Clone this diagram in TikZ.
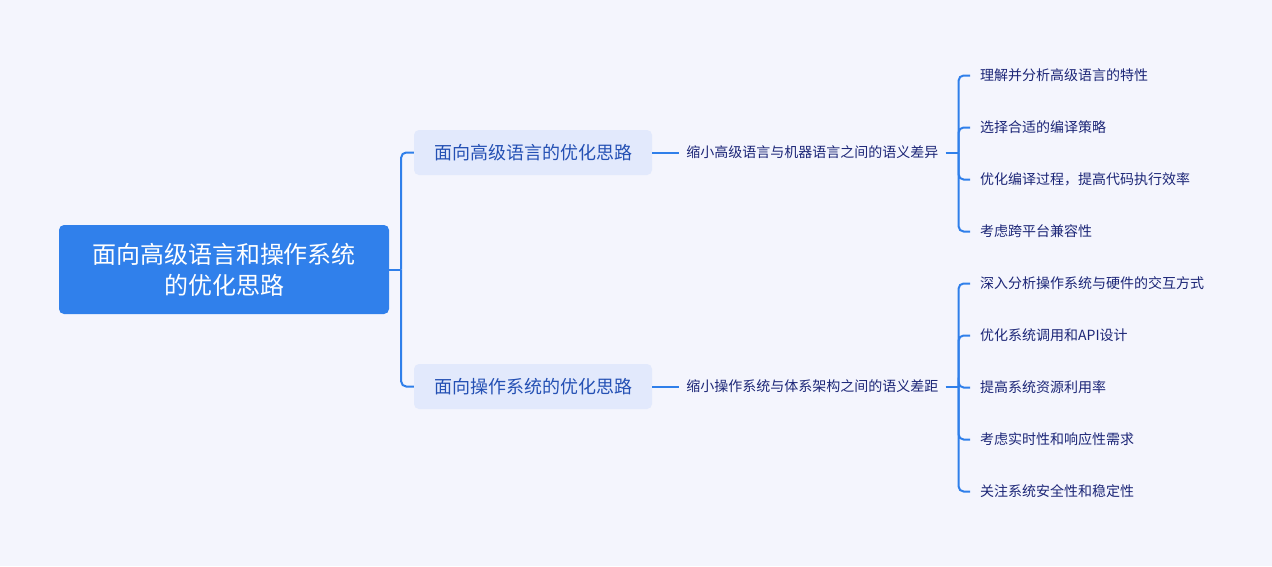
\documentclass[tikz,border=0pt]{standalone}
\usepackage{fontspec}
\setmainfont{Noto Sans CJK SC}
\usetikzlibrary{positioning}

\definecolor{bgcol}{HTML}{F4F5FD}
\definecolor{rootcol}{HTML}{3080EB}
\definecolor{subcol}{HTML}{E2E9FC}
\definecolor{linecol}{HTML}{2F7FEA}
\definecolor{subtxt}{HTML}{2450B4}
\definecolor{leaftxt}{HTML}{1C2677}

\tikzset{
  rootbox/.style={fill=rootcol, text=white, rounded corners=5pt, minimum width=330pt,
    minimum height=89pt, align=center, font=\fontsize{24}{31}\selectfont},
  subbox/.style={fill=subcol, text=subtxt, rounded corners=5pt, minimum width=238pt,
    minimum height=45pt, font=\fontsize{18}{22}\selectfont},
  midtext/.style={anchor=west, text=leaftxt, inner xsep=7pt, font=\fontsize{14}{16}\selectfont},
  leaftext/.style={anchor=west, text=leaftxt, inner xsep=10pt, font=\fontsize{14}{16}\selectfont},
  link/.style={draw=linecol, line width=2pt, rounded corners=5pt},
}

\begin{document}
\begin{tikzpicture}[x=1pt,y=-1pt]

\fill[bgcol] (0,0) rectangle (1272,566);
\useasboundingbox (0,0) rectangle (1272,566);

\node[rootbox] (root) at (224,269.5) {面向高级语言和操作系统\\的优化思路};
\node[subbox] (lang) at (533,152.5) {面向高级语言的优化思路};
\node[subbox] (os) at (533,386.5) {面向操作系统的优化思路};

\node[midtext, right=27pt of lang.east] (langgap) {缩小高级语言与机器语言之间的语义差异};
\node[midtext, right=27pt of os.east] (osgap) {缩小操作系统与体系架构之间的语义差距};

% leaves of the first branch
\node[leaftext] (lang1) at (970,75.5) {理解并分析高级语言的特性};
\node[leaftext] (lang2) at (970,127.5) {选择合适的编译策略};
\node[leaftext] (lang3) at (970,179.5) {优化编译过程，提高代码执行效率};
\node[leaftext] (lang4) at (970,231.5) {考虑跨平台兼容性};

% leaves of the second branch
\node[leaftext] (os1) at (970,283.5) {深入分析操作系统与硬件的交互方式};
\node[leaftext] (os2) at (970,335.5) {优化系统调用和API设计};
\node[leaftext] (os3) at (970,387.5) {提高系统资源利用率};
\node[leaftext] (os4) at (970,439.5) {考虑实时性和响应性需求};
\node[leaftext] (os5) at (970,491.5) {关注系统安全性和稳定性};

\coordinate[right=12pt of root.east] (rootjoin);
\coordinate[right=13pt of langgap.east] (langjoin);
\coordinate[right=13pt of osgap.east] (osjoin);

\draw[link] (root.east) -- (rootjoin);
\draw[link] (rootjoin) |- (lang.west);
\draw[link] (rootjoin) |- (os.west);

\draw[link] (lang.east) -- (langgap.west);
\draw[link] (os.east) -- (osgap.west);

\draw[link] (langgap.east) -- (langjoin);
\draw[link] (langjoin) |- (lang1.west);
\draw[link] (langjoin) |- (lang2.west);
\draw[link] (langjoin) |- (lang3.west);
\draw[link] (langjoin) |- (lang4.west);

\draw[link] (osgap.east) -- (osjoin);
\draw[link] (osjoin) |- (os1.west);
\draw[link] (osjoin) |- (os2.west);
\draw[link] (osjoin) |- (os3.west);
\draw[link] (osjoin) |- (os4.west);
\draw[link] (osjoin) |- (os5.west);

\end{tikzpicture}
\end{document}
